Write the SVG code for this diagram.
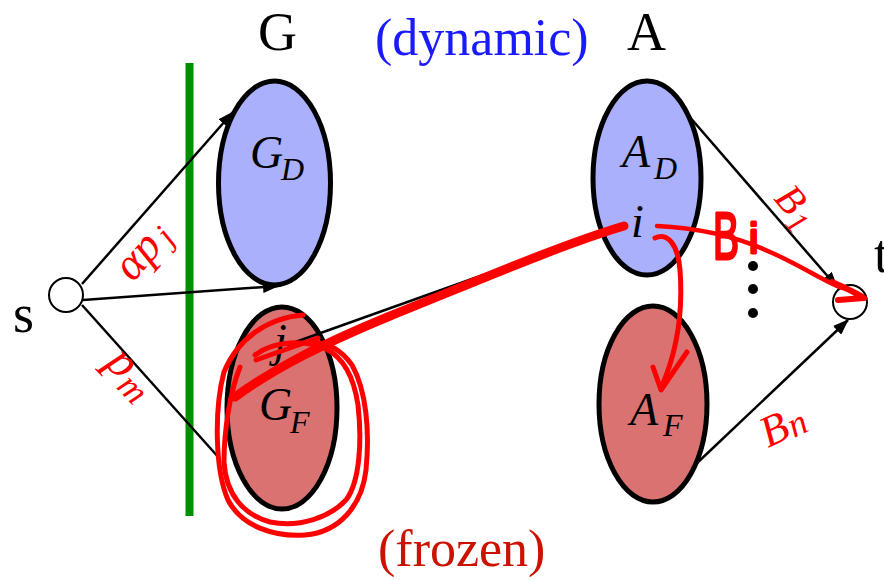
<svg xmlns="http://www.w3.org/2000/svg" width="884" height="580" viewBox="0 0 884 580">
<defs>
<style>
.ttl{font-family:"Liberation Serif","Times New Roman",serif;font-size:54px;fill:#000}
.par{font-family:"Liberation Serif","Times New Roman",serif;font-size:52px}
.math{font-family:"Liberation Serif","Times New Roman",serif;font-style:italic;fill:#000}
.red{font-family:"Liberation Serif","Times New Roman",serif;font-style:italic;fill:#ff0000}
.dyn{fill:#aab0fc;stroke:#000;stroke-width:5}
.frz{fill:#db7272;stroke:#000;stroke-width:5}
.term{fill:#fff;stroke:#000;stroke-width:2}
.edge{stroke:#000;stroke-width:2.5;fill:none}
.ink{stroke:#ff0000;fill:none;stroke-linecap:round;stroke-linejoin:round}
.hand{font-family:"Liberation Sans",Arial,sans-serif;fill:#ff0000;stroke:#ff0000;stroke-width:3;stroke-linejoin:round}
</style>
<marker id="arr" markerUnits="userSpaceOnUse" markerWidth="16" markerHeight="12" refX="15" refY="6" orient="auto">
<path d="M0,0 L16,6 L0,12 z" fill="#000"/>
</marker>
</defs>
<rect width="884" height="580" fill="#fff"/>

<g id="titles">
<text class="ttl" x="258" y="50">G</text>
<text class="ttl" x="627" y="50">A</text>
<text class="par" x="375" y="55" fill="#1a1aff">(dynamic)</text>
<text class="par" x="378" y="566" fill="#cc1100">(frozen)</text>
</g>

<g id="separator">
<line x1="189.5" y1="63" x2="189.5" y2="516" stroke="#009000" stroke-width="8"/>
</g>

<g id="connectors">
<line class="edge" x1="82" y1="284" x2="233" y2="112" marker-end="url(#arr)"/>
<line class="edge" x1="83" y1="300" x2="278" y2="286" marker-end="url(#arr)"/>
<line class="edge" x1="82" y1="305" x2="220" y2="459"/>
<line class="edge" x1="688" y1="115" x2="837" y2="287" marker-end="url(#arr)"/>
<line class="edge" x1="695" y1="465" x2="848" y2="320" marker-end="url(#arr)"/>
</g>

<g id="node-s">
<circle class="term" cx="66" cy="295" r="17"/>
<text class="ttl" x="13" y="332">s</text>
</g>
<g id="node-t">
<circle class="term" cx="850" cy="302" r="17"/>
<text class="ttl" x="874" y="272">t</text>
</g>

<g id="node-GD">
<ellipse class="dyn" cx="274.5" cy="183" rx="56" ry="102"/>
<text class="math" x="250" y="168" font-size="46">G</text>
<text class="math" x="281" y="180" font-size="32">D</text>
</g>
<g id="node-GF">
<ellipse class="frz" cx="282" cy="408" rx="55" ry="101"/>
<text class="math" x="259" y="420" font-size="46">G</text>
<text class="math" x="290" y="433" font-size="32">F</text>
<text class="math" x="274" y="356" font-size="46">j</text>
</g>
<g id="node-AD">
<ellipse class="dyn" cx="647" cy="178" rx="54" ry="97"/>
<text class="math" x="622" y="167" font-size="46">A</text>
<text class="math" x="654" y="179" font-size="32">D</text>
<text class="math" x="631" y="237" font-size="46">i</text>
</g>
<g id="node-AF">
<ellipse class="frz" cx="653" cy="404" rx="54" ry="98"/>
<text class="math" x="630" y="425" font-size="46">A</text>
<text class="math" x="663" y="436" font-size="32">F</text>
</g>

<g id="dots" fill="#000">
<circle cx="753" cy="266" r="5"/>
<circle cx="753" cy="289" r="5"/>
<circle cx="753" cy="313" r="5"/>
</g>

<g id="edge-labels">
<text class="red" font-size="46" transform="translate(133,283) rotate(-49)">αp<tspan font-size="34" dx="5" dy="4">j</tspan></text>
<text class="red" font-size="48" transform="translate(104,364) rotate(46)">p<tspan font-size="36" dx="1" dy="8">m</tspan></text>
<text class="red" font-size="40" transform="translate(773,199) rotate(49)">B<tspan font-size="32" dx="1" dy="8">1</tspan></text>
<text class="red" font-size="44" transform="translate(768,448) rotate(-25)">B<tspan font-size="36" dx="1" dy="2">n</tspan></text>
</g>

<g id="edge-j-i">
<line x1="287" y1="345" x2="620" y2="226" stroke="#000" stroke-width="2.5"/>
</g>

<g id="annotations">
<path class="ink" stroke-width="9" d="M235,397 C275,368 320,345 390,316 C470,284 560,245 624,226"/>
<path class="ink" stroke-width="5" d="M303,315 C268,318 238,338 224,372 C214,410 215,470 228,500 C242,527 275,537 305,535 C340,532 362,505 366,470 C370,430 366,390 352,365 C340,348 325,342 310,342"/>
<path class="ink" stroke-width="5" d="M240,367 C230,392 224,430 224,462 C226,495 244,515 270,522 C300,528 330,517 346,500 C360,482 362,440 358,405 C354,378 344,358 326,349 C305,340 275,340 255,355"/>
<path class="ink" stroke-width="5" d="M256,360 L318,338"/>
<path class="ink" stroke-width="5" d="M655,238 C668,232 678,245 680,270 C683,310 678,350 661,388"/>
<path class="ink" stroke-width="5" d="M653,367 L661,390 L687,352"/>
<path class="ink" stroke-width="4.5" d="M657,226 C700,228 740,238 770,252 C800,265 825,282 842,288"/>
<path class="ink" stroke-width="6" d="M832,282 C845,288 855,292 864,298 L838,300"/>
<text class="hand" x="713" y="259" font-size="66" textLength="26" lengthAdjust="spacingAndGlyphs">B</text>
<text class="hand" x="749" y="253" font-size="42" stroke-width="1.5">i</text>
</g>
</svg>
